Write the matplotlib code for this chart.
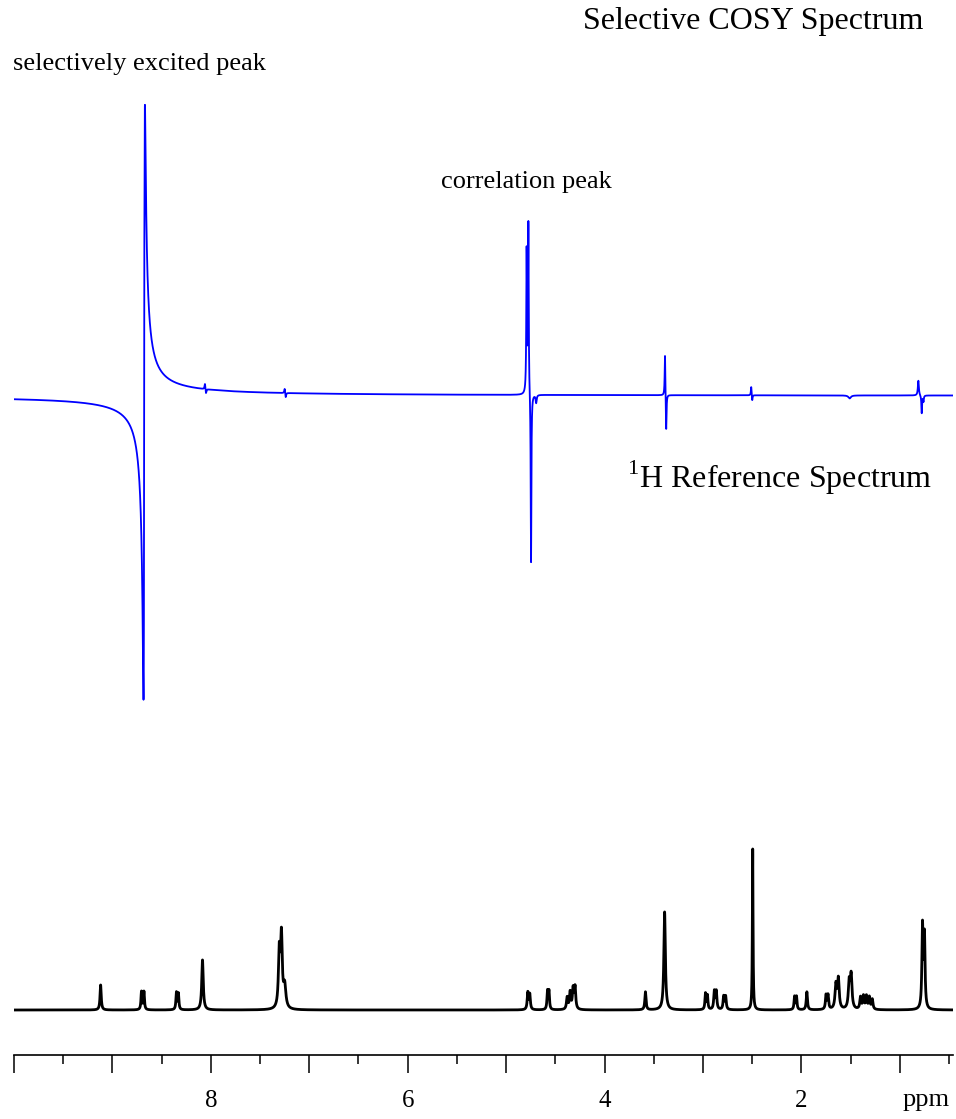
import numpy as np
import matplotlib
matplotlib.use('Agg')
import matplotlib.pyplot as plt
from matplotlib.ticker import FixedLocator, FixedFormatter

# 1H reference spectrum: line positions (ppm), heights, half widths (ppm)
ref_ppm = [9.12, 8.705, 8.680, 8.350, 8.330, 8.085, 7.305, 7.283, 7.250,
           4.780, 4.760, 4.580, 4.565, 4.380, 4.350, 4.320, 4.300, 3.585, 3.390,
           2.975, 2.955, 2.885, 2.865, 2.790, 2.770, 2.495, 2.070, 2.050, 1.945,
           1.750, 1.730, 1.650, 1.625, 1.515, 1.495,
           1.400, 1.370, 1.340, 1.310, 1.280, 0.770, 0.750]
ref_height = [0.25, 0.18, 0.18, 0.17, 0.16, 0.50, 0.55, 0.70, 0.22,
              0.17, 0.15, 0.18, 0.18, 0.12, 0.17, 0.20, 0.22, 0.18, 0.98,
              0.16, 0.14, 0.18, 0.18, 0.13, 0.13, 1.61, 0.13, 0.13, 0.18,
              0.14, 0.14, 0.24, 0.30, 0.26, 0.33,
              0.12, 0.13, 0.13, 0.12, 0.10, 0.82, 0.72]
ref_width = [0.007, 0.006, 0.006, 0.006, 0.006, 0.009, 0.010, 0.010, 0.014,
             0.007, 0.007, 0.006, 0.006, 0.008, 0.008, 0.008, 0.008, 0.007, 0.009,
             0.006, 0.006, 0.007, 0.007, 0.007, 0.007, 0.004, 0.006, 0.006, 0.007,
             0.007, 0.007, 0.010, 0.010, 0.010, 0.010,
             0.008, 0.008, 0.008, 0.008, 0.008, 0.007, 0.007]

# selective COSY: dispersive excited peak + absorptive (antiphase) lines
exc_ppm, exc_amp, exc_width = 8.677, 5.95, 0.0072
cosy_ppm = [8.677, 8.677, 8.060, 8.050, 7.250, 7.240,
            4.792, 4.774, 4.747, 4.695, 3.386, 3.374,
            2.510, 2.500, 1.510, 0.812, 0.778, 0.760]
cosy_amp = [-0.23, 1.26, 0.06, -0.05, 0.05, -0.05,
            1.42, 1.71, -1.72, -0.08, 0.43, -0.38,
            0.09, -0.06, -0.03, 0.15, -0.18, -0.06]
cosy_width = [0.0072, 0.0015, 0.005, 0.005, 0.005, 0.005,
              0.004, 0.004, 0.004, 0.006, 0.004, 0.004,
              0.004, 0.004, 0.015, 0.006, 0.004, 0.004]

major = [10, 9, 8, 7, 6, 5, 4, 3, 2, 1]
minor = [9.5, 8.5, 7.5, 6.5, 5.5, 4.5, 3.5, 2.5, 1.5, 0.5]
labels = ['', '', '8', '', '6', '', '4', '', '2', '']

ppm = np.linspace(10.0, 0.46, 40000)

def lorentz(x, x0, h, g):
    return h * g**2 / ((x - x0)**2 + g**2)

ref = np.zeros_like(ppm)
for p, h, g in zip(ref_ppm, ref_height, ref_width):
    ref += lorentz(ppm, p, h, g)

cosy = exc_amp * exc_width * (exc_ppm - ppm) / ((ppm - exc_ppm)**2 + exc_width**2)
for p, a, g in zip(cosy_ppm, cosy_amp, cosy_width):
    cosy += lorentz(ppm, p, a, g)

plt.rcParams['mathtext.fontset'] = 'custom'
plt.rcParams['mathtext.rm'] = 'Liberation Serif'

W, H = 956, 1119
fig = plt.figure(figsize=(W / 100, H / 100), dpi=100)
serif = ['Liberation Serif', 'DejaVu Serif']

x0, x1 = 14 / W, 953 / W
ax_top = fig.add_axes([x0, 1 - 710 / H, x1 - x0, 610 / H])
ax_top.plot(ppm, cosy, color='#0000ff', lw=1.3)
ax_top.set_xlim(10.0, 0.46)
ax_top.set_ylim(-3.14, 2.96)
ax_top.axis('off')

ax = fig.add_axes([x0, 1 - 1055 / H, x1 - x0, 215 / H])
ax.patch.set_alpha(0)
ax.plot(ppm, ref, color='black', lw=2.0)
ax.set_xlim(10.0, 0.46)
ax.set_ylim(-0.45, 1.70)
for s in ['top', 'left', 'right']:
    ax.spines[s].set_visible(False)
ax.spines['bottom'].set_linewidth(1.2)
ax.set_yticks([])
ax.xaxis.set_major_locator(FixedLocator(major))
ax.xaxis.set_major_formatter(FixedFormatter(labels))
ax.xaxis.set_minor_locator(FixedLocator(minor))
ax.tick_params(axis='x', which='major', direction='out', length=13, width=1.1, pad=12)
ax.tick_params(axis='x', which='minor', direction='out', length=6.5, width=1.1)
for t in ax.get_xticklabels():
    t.set_fontfamily(serif)
    t.set_fontsize(18)

fig.text(583 / W, 1 - 21 / H, 'Selective COSY Spectrum', family=serif, fontsize=23, va='center', ha='left')
fig.text(13 / W, 1 - 64 / H, 'selectively excited peak', family=serif, fontsize=19, va='center', ha='left')
fig.text(441 / W, 1 - 182 / H, 'correlation peak', family=serif, fontsize=19, va='center', ha='left')
fig.text(627 / W, 1 - 478 / H, r'$^{1}$H Reference Spectrum', family=serif, fontsize=23, va='center', ha='left')
fig.text(926 / W, 1 - 1100 / H, 'ppm', family=serif, fontsize=19, va='center', ha='center')

fig.savefig('out.png', dpi=100)
